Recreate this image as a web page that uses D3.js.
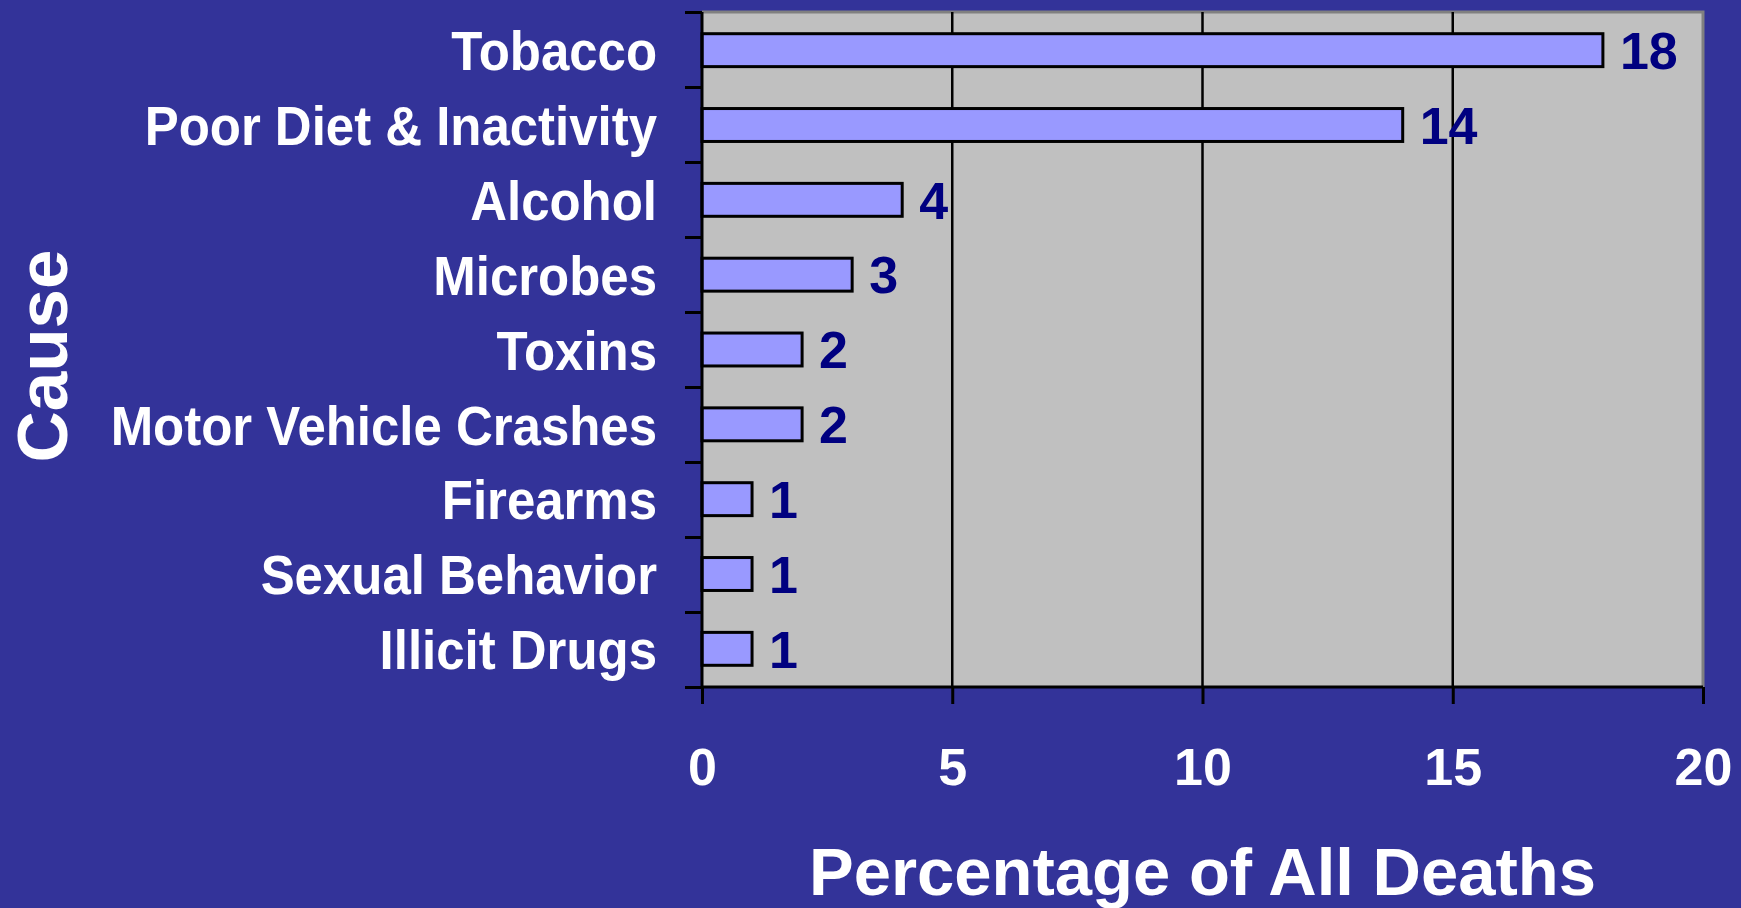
<!DOCTYPE html>
<html>
<head>
<meta charset="utf-8">
<script src="https://cdn.jsdelivr.net/npm/d3@7"></script>
<style>
  html, body { margin: 0; padding: 0; background: #333399; }
  svg { display: block; font-family: "Liberation Sans", Arial, sans-serif; font-weight: bold; }
</style>
</head>
<body>
<svg id="chart" width="1741" height="908"></svg>
<script>
// data
const causes = ['Tobacco', 'Poor Diet & Inactivity', 'Alcohol', 'Microbes', 'Toxins',
  'Motor Vehicle Crashes', 'Firearms', 'Sexual Behavior', 'Illicit Drugs'];
const percents = [18, 14, 4, 3, 2, 2, 1, 1, 1];
const xTicks = [0, 5, 10, 15, 20];

const svg = d3.select('#chart');
const margin = { top: 12, right: 38, bottom: 221, left: 702 };
const width = 1741 - margin.left - margin.right;
const height = 908 - margin.top - margin.bottom;

const g = svg.append('g').attr('transform', `translate(${margin.left},${margin.top})`);

const x = d3.scaleLinear().domain([0, 20]).range([0, width]);
const y = d3.scaleBand().domain(causes).range([0, height])
  .paddingInner(0.56).paddingOuter(0.29);
// boundaries between categories, for the tick marks on the left axis
const yEdge = d3.scaleLinear().domain([0, causes.length]).range([0, height]);

// plot background
g.append('rect')
  .attr('width', width)
  .attr('height', height)
  .attr('fill', '#c0c0c0');

// border top / right
g.append('path')
  .attr('d', `M0,0H${width}V${height}`)
  .attr('fill', 'none')
  .attr('stroke', '#808080')
  .attr('stroke-width', 3);

// vertical grid lines
g.selectAll('.grid')
  .data(xTicks.filter(d => d > 0 && d < 20))
  .enter().append('line')
  .attr('class', 'grid')
  .attr('x1', d => x(d))
  .attr('x2', d => x(d))
  .attr('y1', 0)
  .attr('y2', height)
  .attr('stroke', '#000')
  .attr('stroke-width', 2.5);

// bars
g.selectAll('.bar')
  .data(causes)
  .enter().append('rect')
  .attr('class', 'bar')
  .attr('x', 0)
  .attr('y', d => y(d))
  .attr('width', (d, i) => x(percents[i]))
  .attr('height', y.bandwidth())
  .attr('fill', '#9999ff')
  .attr('stroke', '#000')
  .attr('stroke-width', 3);

// value labels
g.selectAll('.value')
  .data(causes)
  .enter().append('text')
  .attr('class', 'value')
  .attr('x', (d, i) => x(percents[i]) + 17)
  .attr('y', d => y(d) + y.bandwidth() / 2)
  .attr('dy', '0.36em')
  .attr('fill', '#000080')
  .style('font-size', '52px')
  .text((d, i) => percents[i]);

// left axis (tick marks only)
const yAxis = g.append('g')
  .call(d3.axisLeft(yEdge).tickValues(d3.range(causes.length + 1)).tickSize(17).tickFormat(''));
yAxis.selectAll('path, line').attr('stroke', '#000').attr('stroke-width', 3);
yAxis.select('.domain').attr('d', `M0,0V${height}`);

// bottom axis
const xAxis = g.append('g')
  .attr('transform', `translate(0,${height})`)
  .call(d3.axisBottom(x).tickValues(xTicks).tickSize(17).tickPadding(44));
xAxis.selectAll('path, line').attr('stroke', '#000').attr('stroke-width', 3);
xAxis.select('.domain').attr('d', `M0,0H${width}`);
xAxis.selectAll('text')
  .attr('fill', '#fff')
  .style('font-size', '52px')
  .style('font-family', '"Liberation Sans", Arial, sans-serif')
  .style('font-weight', 'bold');

// category labels (slightly condensed like the original)
g.selectAll('.cat')
  .data(causes)
  .enter().append('g')
  .attr('class', 'cat')
  .attr('transform', d => `translate(-45,${y(d) + y.bandwidth() / 2}) scale(0.91,1)`)
  .append('text')
  .attr('text-anchor', 'end')
  .attr('dy', '0.36em')
  .attr('fill', '#fff')
  .style('font-size', '56px')
  .text(d => d);

// axis titles
svg.append('text')
  .attr('x', margin.left + width / 2)
  .attr('y', 895)
  .attr('text-anchor', 'middle')
  .attr('fill', '#fff')
  .style('font-size', '67px')
  .text('Percentage of All Deaths');

svg.append('text')
  .attr('transform', 'translate(67,356) rotate(-90)')
  .attr('text-anchor', 'middle')
  .attr('fill', '#fff')
  .style('font-size', '71px')
  .text('Cause');
</script>
</body>
</html>
